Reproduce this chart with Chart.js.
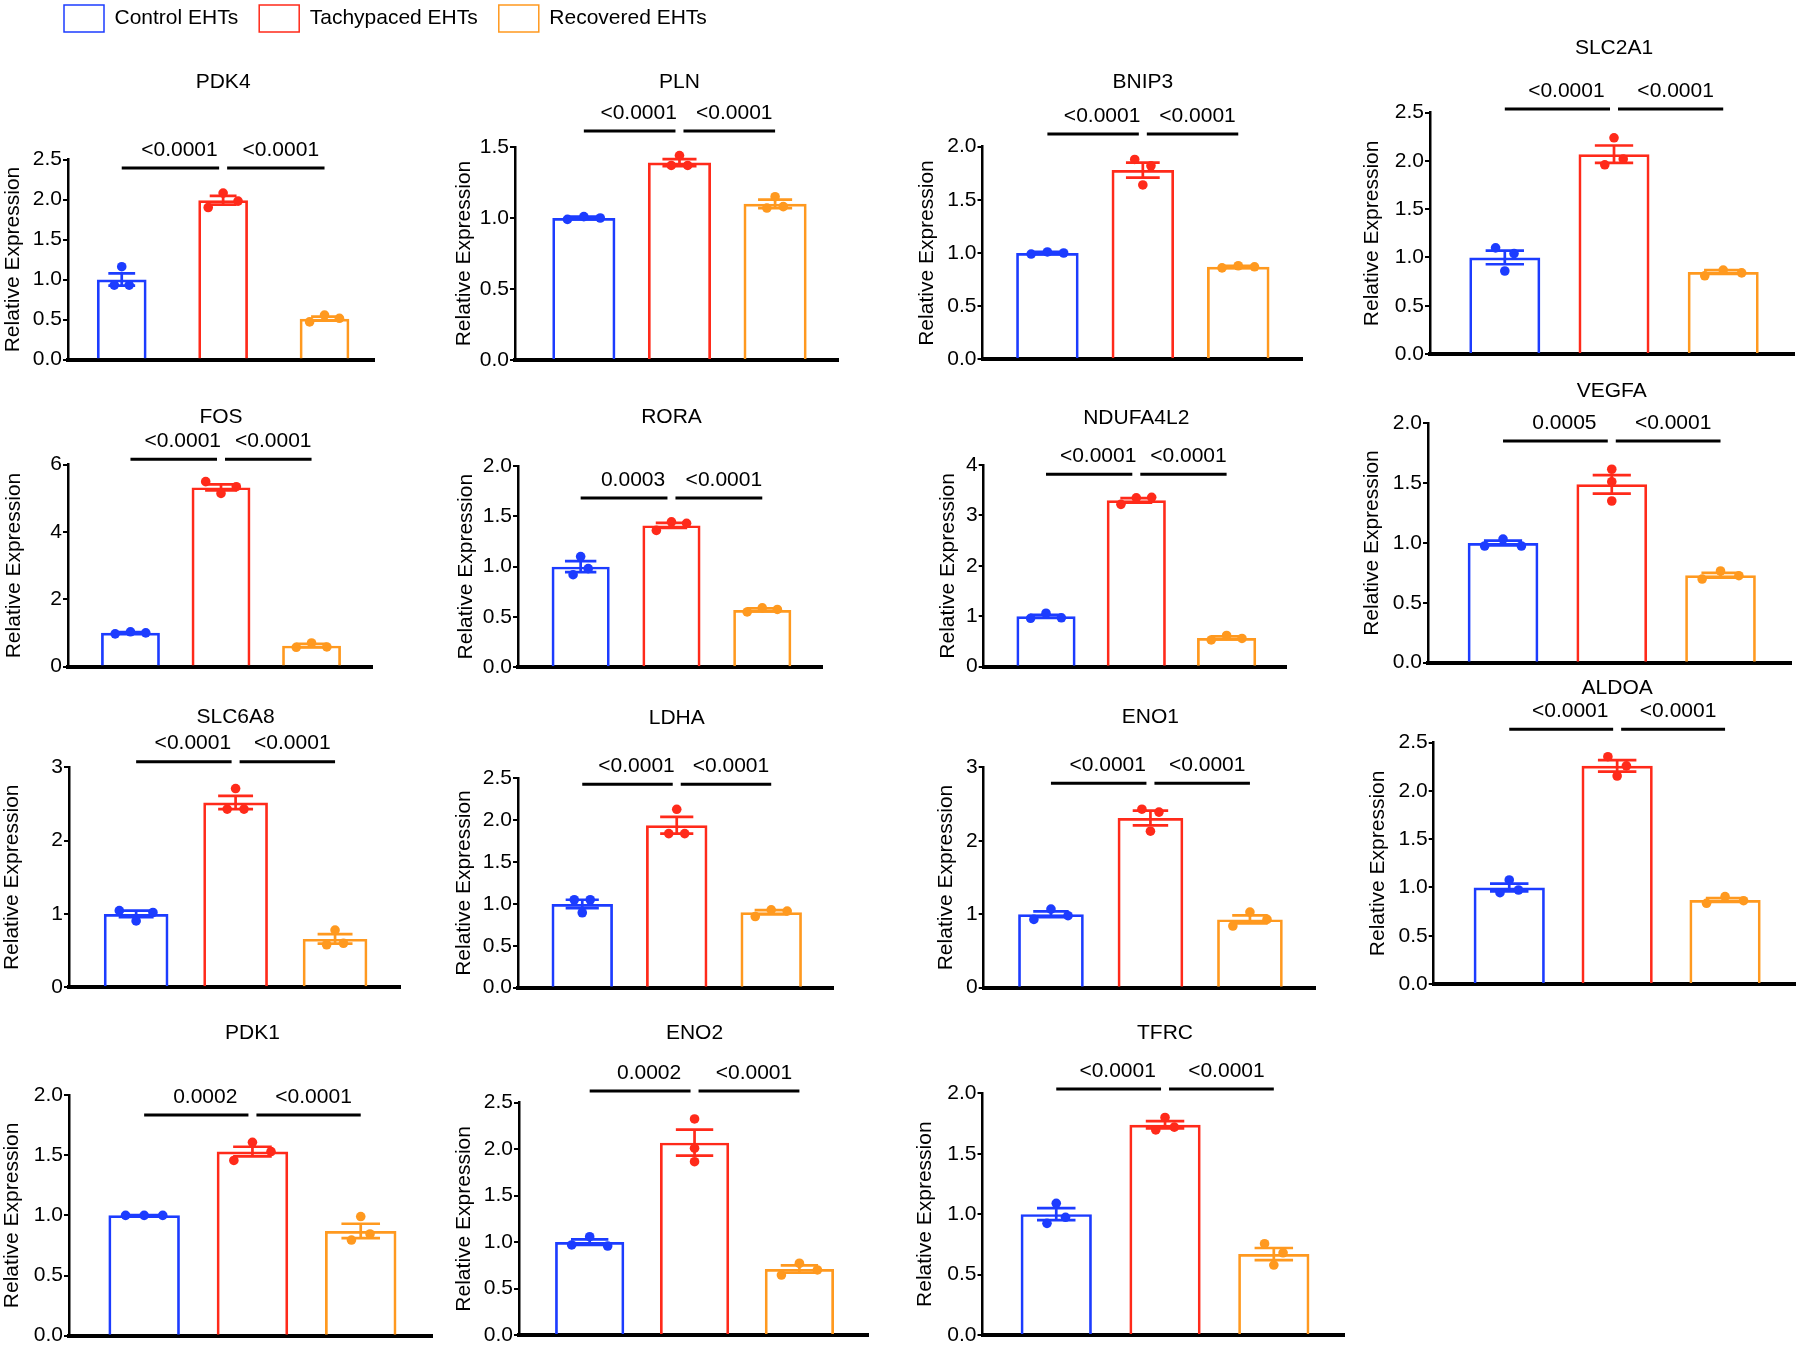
<!DOCTYPE html>
<html>
<head>
<meta charset="utf-8">
<script src="https://cdn.jsdelivr.net/npm/chart.js@4.4.1/dist/chart.umd.min.js"></script>
<style>
html,body{margin:0;padding:0;background:#fff;}
#fig{position:relative;width:1800px;height:1348px;overflow:hidden;background:#fff;}
#fig canvas{position:absolute;}
</style>
</head>
<body>
<div id="fig"></div>
<script>
// ---------------- DATA ----------------
const groups = ['Control EHTs', 'Tachypaced EHTs', 'Recovered EHTs'];
const genes = ['PDK4','PLN','BNIP3','SLC2A1','FOS','RORA','NDUFA4L2','VEGFA','SLC6A8','LDHA','ENO1','ALDOA','PDK1','ENO2','TFRC'];

const meanControl   = [1.00,1.00,1.00,1.00,1.00,1.00,1.00,1.00,1.00,1.00,1.00,1.00,1.00,1.00,1.00];
const meanTachy     = [1.99,1.39,1.78,2.07,5.32,1.41,3.30,1.49,2.52,1.94,2.31,2.26,1.53,2.07,1.74];
const meanRecovered = [0.51,1.10,0.87,0.85,0.62,0.57,0.57,0.73,0.66,0.90,0.93,0.87,0.87,0.71,0.67];

const semControl    = [0.077,0.01,0.01,0.07,0.02,0.055,0.03,0.02,0.045,0.05,0.04,0.04,0.003,0.03,0.05];
const semTachy      = [0.055,0.025,0.07,0.09,0.09,0.025,0.045,0.077,0.09,0.10,0.10,0.06,0.04,0.14,0.03];
const semRecovered  = [0.025,0.03,0.01,0.02,0.05,0.015,0.03,0.02,0.065,0.025,0.055,0.02,0.06,0.04,0.05];

// replicates, listed left to right
const repControl = [
  [0.93,1.16,0.93],[0.99,1.01,1.00],[0.99,1.01,1.00],[1.10,0.86,1.04],[0.97,1.03,1.00],
  [0.92,1.10,0.98],[0.96,1.06,0.97],[0.975,1.033,0.975],[1.045,0.905,1.02],[1.05,0.895,1.05],
  [0.93,1.07,0.98],[0.946,1.078,0.974],[1.00,1.00,1.00],[0.969,1.058,0.958],[0.924,1.09,0.974]
];
const repTachy = [
  [1.90,2.08,1.98],[1.37,1.44,1.37],[1.88,1.64,1.82],[1.96,2.24,2.02],[5.49,5.14,5.34],
  [1.36,1.445,1.43],[3.22,3.35,3.36],[1.616,1.512,1.351],[2.43,2.71,2.43],[1.84,2.13,1.84],
  [2.43,2.13,2.39],[2.355,2.155,2.26],[1.456,1.607,1.53],[2.325,2.01,1.865],[1.697,1.80,1.72]
];
const repRecovered = [
  [0.47,0.556,0.515],[1.07,1.15,1.08],[0.86,0.88,0.87],[0.81,0.87,0.84],[0.57,0.70,0.58],
  [0.55,0.59,0.575],[0.53,0.62,0.56],[0.699,0.766,0.727],[0.58,0.78,0.60],[0.85,0.93,0.915],
  [0.84,1.03,0.93],[0.836,0.905,0.863],[0.795,0.99,0.845],[0.645,0.772,0.70],[0.755,0.579,0.68]
];

const pLeft  = ['<0.0001','<0.0001','<0.0001','<0.0001','<0.0001','0.0003','<0.0001','0.0005','<0.0001','<0.0001','<0.0001','<0.0001','0.0002','0.0002','<0.0001'];
const pRight = ['<0.0001','<0.0001','<0.0001','<0.0001','<0.0001','<0.0001','<0.0001','<0.0001','<0.0001','<0.0001','<0.0001','<0.0001','<0.0001','<0.0001','<0.0001'];

const yMax  = [2.5,1.5,2.0,2.5,6,2.0,4,2.0,3,2.5,3,2.5,2.0,2.5,2.0];
const yStep = [0.5,0.5,0.5,0.5,2,0.5,1,0.5,1,0.5,1,0.5,0.5,0.5,0.5];

// ---------------- LAYOUT / STYLE ----------------
const colors = ['#1c3cff', '#ff2a1a', '#ff991f'];
const FONT = "'Liberation Sans', Arial, Helvetica, sans-serif";
// plot-area edges on the page (L,R,T,B), y-title offset, x range, bar width, title & bracket rows
const panelLayout = [
  {L:68,    R:376,    T:159.5,  B:359.5,  off:54,   xMin:-0.53,  xMax:2.49,  bar:0.49,  titleY:82,     lineY:168},
  {L:515,   R:839.5,  T:147,    B:360,    off:50.5, xMin:-0.72,  xMax:2.66,  bar:0.66,  titleY:82,     lineY:131},
  {L:982.5, R:1304,   T:146.7,  B:359.3,  off:54.5, xMin:-0.68,  xMax:2.67,  bar:0.655, titleY:82,     lineY:134},
  {L:1430,  R:1795.5, T:112.7,  B:354,    off:57,   xMin:-0.685, xMax:2.65,  bar:0.65,  titleY:48,     lineY:109},
  {L:68,    R:374,    T:464.5,  B:666.5,  off:53.6, xMin:-0.69,  xMax:2.67,  bar:0.65,  titleY:417.7,  lineY:459.3},
  {L:518,   R:824,    T:466,    B:667.3,  off:51,   xMin:-0.69,  xMax:2.66,  bar:0.64,  titleY:417.7,  lineY:498},
  {L:983.7, R:1287.7, T:465,    B:666.7,  off:34.7, xMin:-0.69,  xMax:2.66,  bar:0.655, titleY:418,    lineY:474.3},
  {L:1428,  R:1793,   T:423.3,  B:662.7,  off:55,   xMin:-0.69,  xMax:2.65,  bar:0.65,  titleY:391.7,  lineY:441},
  {L:69,    R:402,    T:767.3,  B:987.3,  off:56,   xMin:-0.675, xMax:2.655, bar:0.65,  titleY:717.7,  lineY:761.7},
  {L:518,   R:835,    T:778.3,  B:987.7,  off:53.5, xMin:-0.68,  xMax:2.656, bar:0.65,  titleY:718.3,  lineY:784.3},
  {L:983.7, R:1316.6, T:767.3,  B:987.7,  off:37.5, xMin:-0.676, xMax:2.656, bar:0.66,  titleY:717.7,  lineY:783.3},
  {L:1433.7,R:1797,   T:742.7,  B:984,    off:54.7, xMin:-0.70,  xMax:2.65,  bar:0.66,  titleY:688.5,  lineY:729.3},
  {L:69,    R:434,    T:1095,   B:1335.7, off:56,   xMin:-0.694, xMax:2.66,  bar:0.66,  titleY:1033.3, lineY:1115},
  {L:519,   R:870,    T:1102.7, B:1335,   off:54.5, xMin:-0.674, xMax:2.656, bar:0.66,  titleY:1033.3, lineY:1091},
  {L:982.5, R:1345.5, T:1093.3, B:1335,   off:56.5, xMin:-0.678, xMax:2.647, bar:0.655, titleY:1033.3, lineY:1089}
];

Chart.defaults.font.family = FONT;
Chart.defaults.font.size = 21;
Chart.defaults.color = '#000';

const fig = document.getElementById('fig');

function makeCanvas(left, top, w, h) {
  const c = document.createElement('canvas');
  c.width = w; c.height = h;
  c.style.left = left + 'px'; c.style.top = top + 'px';
  c.style.width = w + 'px'; c.style.height = h + 'px';
  fig.appendChild(c);
  return c;
}

// simple symmetric beeswarm: points closer than ~a dot diameter share a row
function swarm(vals, pxPerY, spacing) {
  const idx = vals.map((v, i) => i).sort((a, b) => vals[a] - vals[b]);
  const rows = [];
  let cur = [idx[0]];
  for (let k = 1; k < idx.length; k++) {
    if ((vals[idx[k]] - vals[idx[k - 1]]) * pxPerY < 9.5) cur.push(idx[k]);
    else { rows.push(cur); cur = [idx[k]]; }
  }
  rows.push(cur);
  const off = new Array(vals.length).fill(0);
  rows.forEach(r => {
    r.sort((a, b) => a - b);
    r.forEach((id, j) => { off[id] = (j - (r.length - 1) / 2) * spacing; });
  });
  return off;
}

const annot = {
  id: 'annot',
  afterDatasetDraw(chart, args, opts) {
    if (args.index !== 0) return;
    const g = opts.gene;
    const {ctx} = chart;
    const x = chart.scales.x, y = chart.scales.y;
    const meta = chart.getDatasetMeta(0);
    const m = [meanControl[g], meanTachy[g], meanRecovered[g]];
    const s = [semControl[g], semTachy[g], semRecovered[g]];
    ctx.save();
    ctx.lineWidth = 2.7;
    for (let i = 0; i < 3; i++) {
      const px = x.getPixelForValue(i);
      const cw = meta.data[i].width * 0.54 / 2;
      const y1 = y.getPixelForValue(m[i] + s[i]);
      const y2 = y.getPixelForValue(m[i] - s[i]);
      ctx.strokeStyle = colors[i];
      ctx.beginPath();
      ctx.moveTo(px, y1); ctx.lineTo(px, y2);
      ctx.moveTo(px - cw, y1); ctx.lineTo(px + cw, y1);
      ctx.moveTo(px - cw, y2); ctx.lineTo(px + cw, y2);
      ctx.stroke();
    }
    ctx.restore();
  },
  afterDraw(chart, args, opts) {
    const g = opts.gene, top = opts.canvasTop, lay = panelLayout[g];
    const {ctx} = chart;
    const x = chart.scales.x;
    const x0 = x.getPixelForValue(0), x1 = x.getPixelForValue(1), x2 = x.getPixelForValue(2);
    ctx.save();
    ctx.fillStyle = '#000';
    ctx.font = '21px ' + FONT;
    ctx.textAlign = 'center';
    ctx.textBaseline = 'middle';
    ctx.fillText(genes[g], x1, lay.titleY - top);
    const ly = lay.lineY - top;
    ctx.strokeStyle = '#000';
    ctx.lineWidth = 3;
    ctx.beginPath();
    ctx.moveTo(x0, ly); ctx.lineTo(x1 - 4, ly);
    ctx.moveTo(x1 + 4, ly); ctx.lineTo(x2, ly);
    ctx.stroke();
    ctx.fillText(pLeft[g], (x0 + x1) / 2 + 7, ly - 18);
    ctx.fillText(pRight[g], (x1 + x2) / 2 + 7, ly - 18);
    ctx.restore();
  }
};

genes.forEach((gene, g) => {
  const lay = panelLayout[g];
  const W0 = lay.off + 12.6;
  const left = Math.round(lay.L - W0);
  const yW = lay.L - left;
  const top = Math.round(lay.T - 100);
  const padTop = lay.T - top;
  const height = Math.round(lay.B - top + 14);
  const padBottom = height - (lay.B - top);
  const width = Math.round(lay.R + 3 - left);
  const padRight = width - (lay.R - left);
  const canvas = makeCanvas(left, top, width, height);

  const means = [meanControl[g], meanTachy[g], meanRecovered[g]];
  const reps = [repControl[g], repTachy[g], repRecovered[g]];
  const pxPerY = (lay.B - lay.T) / yMax[g];
  const pxPerX = (lay.R - lay.L) / (lay.xMax - lay.xMin);
  const spacing = Math.max(0.26 * lay.bar, 15 / pxPerX);
  const pts = [], ptColors = [];
  reps.forEach((vals, i) => {
    const offs = swarm(vals, pxPerY, spacing);
    vals.forEach((v, k) => { pts.push({x: i + offs[k], y: v}); ptColors.push(colors[i]); });
  });
  const dec = yStep[g] < 1 ? 1 : 0;

  new Chart(canvas, {
    type: 'bar',
    data: {
      datasets: [
        {
          type: 'bar',
          data: means.map((m, i) => ({x: i, y: m})),
          backgroundColor: 'rgba(255,255,255,0)',
          borderColor: colors,
          borderWidth: 2.7,
          borderSkipped: 'start',
          barPercentage: lay.bar,
          categoryPercentage: 1,
          order: 2
        },
        {
          type: 'scatter',
          data: pts,
          backgroundColor: ptColors,
          borderWidth: 0,
          pointRadius: 4.8,
          clip: false,
          order: 1
        }
      ]
    },
    options: {
      responsive: false,
      animation: false,
      devicePixelRatio: 1,
      layout: {padding: {left: 0, top: padTop, right: padRight, bottom: padBottom}},
      plugins: {
        legend: {display: false},
        tooltip: {enabled: false},
        annot: {gene: g, canvasTop: top}
      },
      scales: {
        x: {
          type: 'linear',
          min: lay.xMin, max: lay.xMax,
          offset: false,
          afterFit: s => { s.height = 0; },
          ticks: {display: false, stepSize: 1, includeBounds: false},
          grid: {display: false, drawTicks: false},
          border: {display: true, color: '#000', width: 4}
        },
        y: {
          type: 'linear',
          min: 0, max: yMax[g],
          afterFit: s => { s.width = yW; },
          ticks: {
            stepSize: yStep[g],
            padding: 1,
            color: '#000',
            font: {size: 21},
            autoSkip: false,
            callback: v => Number(v).toFixed(dec)
          },
          grid: {display: true, drawOnChartArea: false, drawTicks: true, tickLength: 5, color: '#000', lineWidth: 2},
          border: {display: true, color: '#000', width: 2.5},
          title: {display: true, text: 'Relative Expression', color: '#000', font: {size: 21}, padding: 0}
        }
      }
    },
    plugins: [annot]
  });
});

// legend (its own chart, only the legend is shown)
const legCanvas = makeCanvas(43, -16, 760, 200);
new Chart(legCanvas, {
  type: 'bar',
  data: {
    labels: [],
    datasets: groups.map((name, i) => ({
      label: name, data: [],
      borderColor: colors[i], backgroundColor: 'rgba(255,255,255,0)', borderWidth: 1.5
    }))
  },
  options: {
    responsive: false, animation: false, devicePixelRatio: 1,
    layout: {padding: 0},
    plugins: {
      tooltip: {enabled: false},
      legend: {
        display: true, position: 'top', align: 'start',
        labels: {boxWidth: 40, boxHeight: 27, padding: 21, color: '#000', font: {size: 21}}
      }
    },
    scales: {x: {display: false}, y: {display: false}}
  }
});
</script>
</body>
</html>
